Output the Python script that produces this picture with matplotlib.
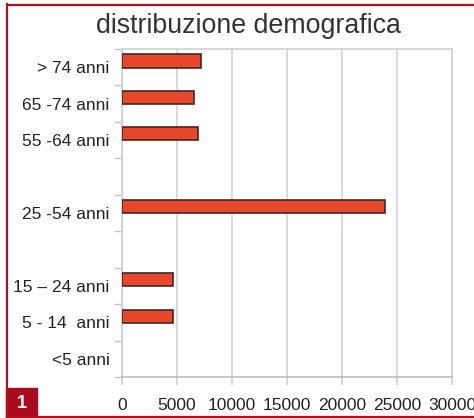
import matplotlib.pyplot as plt
from matplotlib.patches import Rectangle
from matplotlib.lines import Line2D

plt.rcParams['font.family'] = ['Liberation Sans', 'DejaVu Sans']

# slots from bottom to top; empty strings are the blank gaps
categories = ["<5 anni", "5 - 14  anni", "15 \u2013 24 anni", "", "25 -54 anni",
              "", "55 -64 anni", "65 -74 anni", "> 74 anni"]
values = [0, 4600, 4600, 0, 23950, 0, 6950, 6500, 7200]
xticks = [0, 5000, 10000, 15000, 20000, 25000, 30000]

W, H = 474, 418
fig = plt.figure(figsize=(W / 100, H / 100), dpi=100)
ax = fig.add_axes([122 / W, 41 / H, 330 / W, 328 / H])

pos = list(range(len(categories)))
bar_pos = [p + 0.17 for p, v in zip(pos, values) if v > 0]
bar_val = [v for v in values if v > 0]
ax.barh(bar_pos, bar_val, height=0.36, color="#e8472a",
        edgecolor="#3b2b2b", linewidth=1.2, zorder=3)

ax.set_xlim(0, 30000)
ax.set_ylim(-0.5, len(categories) - 0.5)
ax.set_xticks(xticks)
ax.set_xticklabels([str(x) for x in xticks])
ax.set_yticks(pos)
ax.set_yticklabels(categories)
ax.set_yticks([p - 0.5 for p in range(len(categories) + 1)], minor=True)

ax.grid(axis="x", color="#d3d3d3", linewidth=1.2, zorder=0)
for s in ax.spines.values():
    s.set_color("#cfcfcf")
    s.set_linewidth(1.2)
ax.spines["bottom"].set_color("#bdbdbd")

ax.tick_params(axis="y", which="major", length=0, pad=9, labelsize=12.5,
               labelcolor="#222222")
ax.tick_params(axis="y", which="minor", length=6, width=1, color="#c4c4c4")
ax.tick_params(axis="x", length=6, width=1.2, color="#cfcfcf", pad=9,
               labelsize=12.5, labelcolor="#222222")

fig.text(248 / W, 1 - 33 / H, "distribuzione demografica", ha="center",
         va="baseline", fontsize=19.3, color="#333333")

# red frame and number badge
red = "#b3101f"
fig.add_artist(Line2D([7 / W, 7 / W], [0, 1 - 4 / H], color=red, linewidth=1.6))
fig.add_artist(Line2D([7 / W, 1], [1 - 5 / H, 1 - 5 / H], color=red, linewidth=1.6))
fig.add_artist(Line2D([7 / W, 1], [1 / H, 1 / H], color=red, linewidth=1.6))
fig.add_artist(Rectangle((6 / W, 0), 31 / W, 30 / H, transform=fig.transFigure,
                         color="#a80d1d"))
fig.text(22 / W, 15 / H, "1", ha="center", va="center", color="white",
         fontsize=13, fontweight="bold")

fig.savefig("out.png", dpi=100)
